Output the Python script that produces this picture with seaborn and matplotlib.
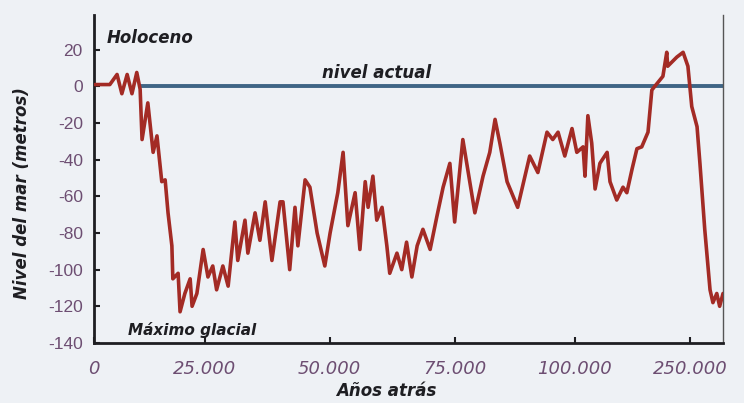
import pandas as pd
import numpy as np
import seaborn as sns
import matplotlib.pyplot as plt

## Data (miles de años atrás, metros respecto al nivel actual)
anos = [0.2, 3.3, 4.8, 5.8, 6.9, 7.9, 8.9, 9.6, 10.0, 11.2, 12.3, 13.1, 14.1, 14.8,
        15.4, 16.2, 16.4, 17.5, 17.9, 18.9, 20.0, 20.4, 21.4, 22.7, 23.7, 24.7,
        25.5, 26.8, 27.9, 29.3, 29.9, 31.4, 32.0, 33.5, 34.5, 35.6, 37.0, 38.7,
        39.3, 40.7, 41.8, 42.4, 43.9, 44.9, 46.4, 48.0, 49.1, 50.7, 51.8, 52.8,
        54.3, 55.3, 56.4, 57.0, 58.0, 58.8, 59.9, 60.9, 61.5, 63.0, 64.0, 65.0,
        66.1, 67.2, 68.4, 69.9, 71.3, 72.6, 74.0, 75.0, 76.7, 79.2, 80.9, 82.3,
        83.4, 84.4, 85.9, 88.1, 90.6, 92.3, 94.2, 95.4, 96.5, 97.9, 99.4, 100.4,
        101.7, 102.1, 102.7, 103.5, 104.2, 105.2, 106.7, 107.3, 108.7, 110.0,
        110.8, 111.9, 112.9, 113.9, 115.2, 116.0, 116.6, 118.3, 119.1, 119.3,
        121.2, 122.5, 123.5, 124.3, 125.4, 126.0, 127.0, 128.1, 128.7, 129.5,
        130.1, 130.8]
nivel = [1, 1, 6.5, -4, 6.5, -4, 7.6, -1.6, -29, -9, -36, -27, -52, -51,
         -69, -87, -105, -102, -123, -113, -105, -120, -113, -89, -104, -98,
         -111, -98, -109, -74, -95, -73, -91, -69, -84, -63, -95, -63,
         -63, -100, -66, -87, -51, -55, -80, -98, -80, -58, -36, -76,
         -58, -89, -52, -66, -49, -73, -66, -87, -102, -91, -100, -85,
         -104, -87, -78, -89, -71, -55, -42, -74, -29, -69, -49, -36,
         -18, -31, -52, -66, -38, -47, -25, -29, -25, -38, -23, -36,
         -33, -49, -16, -31, -56, -42, -36, -52, -62, -55,
         -58, -45, -34, -33, -25, -2, 0, 5.5, 18.6, 11,
         16, 18.6, 11, -11, -22, -42, -78, -111, -118, -113,
         -120, -113]

tick_pos = [0, 23, 49, 75, 100, 124]
tick_lab = ["0", "25.000", "50.000", "75.000", "100.000", "250.000"]
y_ticks = [-140, -120, -100, -80, -60, -40, -20, 0, 20]

df = pd.DataFrame({"anos": anos, "nivel": nivel})

sns.set_style("ticks")
plt.rcParams['font.family'] = ['DejaVu Sans']
plt.rcParams['axes.unicode_minus'] = False

bg = "#eef1f5"
dark = "#1e1e22"
fig = plt.figure(figsize=(7.44, 4.03), dpi=100, facecolor=bg)
ax = fig.add_axes([0.1263, 0.149, 0.8455, 0.814])
ax.set_facecolor(bg)

# nivel actual
ax.hlines(0, 9.6, 130.8, color="#3f6585", lw=2.8, zorder=2)
sns.lineplot(data=df, x="anos", y="nivel", ax=ax, color="#a32b25", lw=2.6,
             sort=False, zorder=3)

ax.set_xlim(0, 130.8)
ax.set_ylim(-140, 39)
ax.set_xticks(tick_pos)
ax.set_xticklabels(tick_lab)
ax.set_yticks(y_ticks)
ax.tick_params(direction="in", length=4, width=1.5, colors=dark,
               labelcolor="#6d4e72")
ax.tick_params(axis="x", labelsize=13, pad=12)
ax.tick_params(axis="y", labelsize=12, pad=8)
for t in ax.get_xticklabels():
    t.set_style("italic")
for t in ax.get_yticklabels():
    t.set_family("Liberation Sans")
    t.set_fontsize(12.5)

ax.spines["top"].set_visible(False)
ax.spines["left"].set_linewidth(2)
ax.spines["bottom"].set_linewidth(2)
ax.spines["left"].set_color(dark)
ax.spines["bottom"].set_color(dark)
ax.spines["right"].set_linewidth(1)
ax.spines["right"].set_color("#555555")

lab = dict(style="italic", weight="bold", fontsize=12, color=dark)
ax.set_xlabel("Años atrás", **lab)
ax.xaxis.set_label_coords(0.464, -0.12)
ax.set_ylabel("Nivel del mar (metros)", **lab)
ax.yaxis.set_label_coords(-0.1, 0.457)

ax.text(2.7, 23.8, "Holoceno", **lab)
ax.text(47.4, 4.7, "nivel actual", **lab)
ax.text(7, -135.5, "Máximo glacial", **dict(lab, fontsize=11))

plt.savefig("out.png", dpi=100, facecolor=bg)
